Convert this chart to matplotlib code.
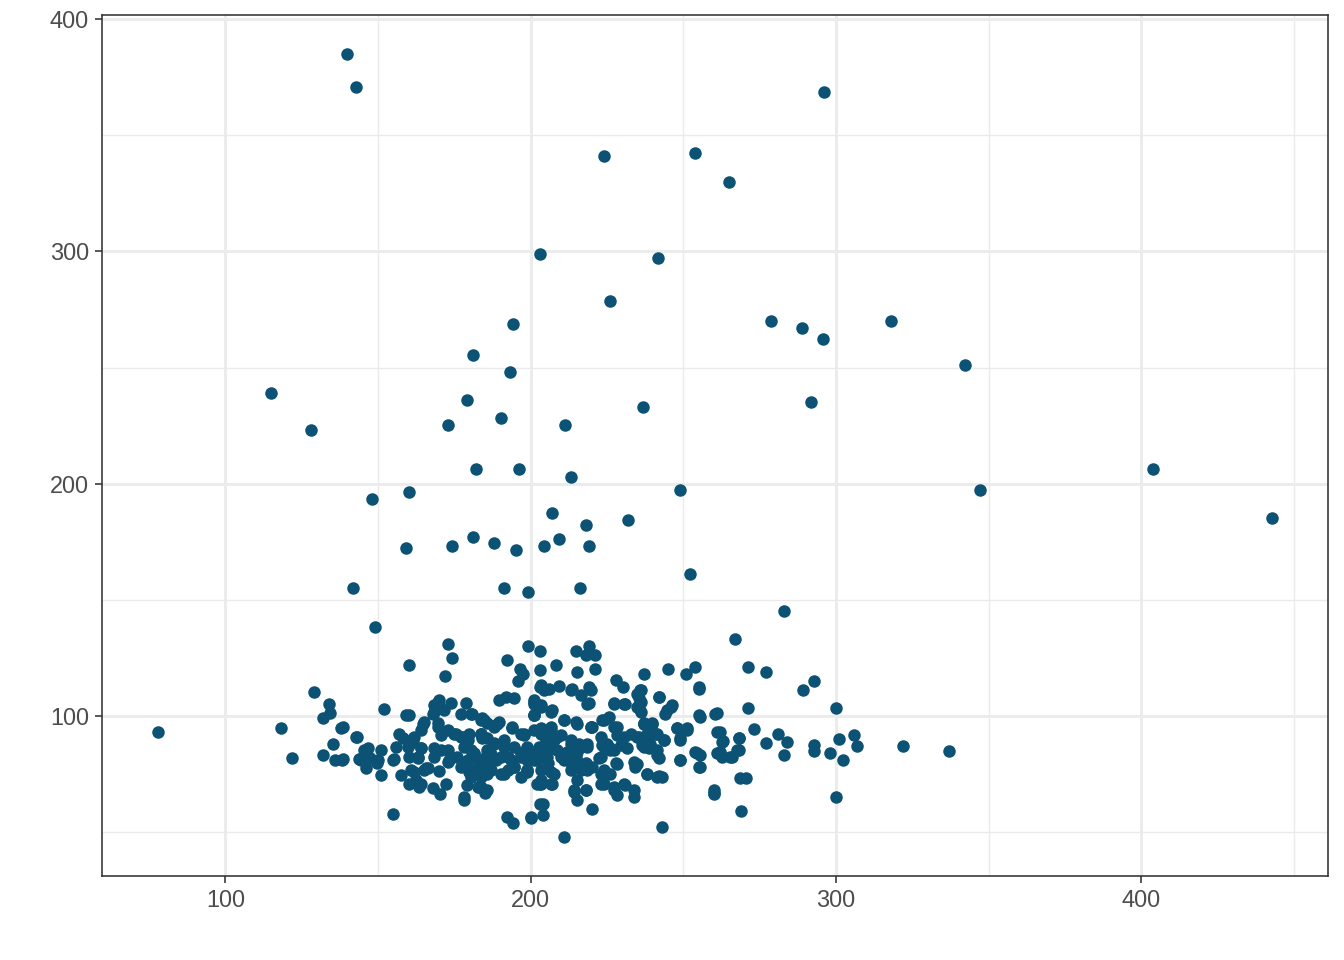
import matplotlib
matplotlib.use("Agg")
import matplotlib.pyplot as plt
import numpy as np

# points
x = [77.8, 139.9, 142.8, 296.1, 223.9, 253.9, 265.0, 202.9, 241.8, 225.8, 194.1, 278.8, 288.9, 295.8, 318.0,
     342.2, 181.0, 115.0, 193.1, 179.1, 236.9, 291.8, 128.1, 190.2, 172.9, 211.1, 182.0, 196.1, 213.1, 403.9,
     442.8, 249.0, 347.1, 148.0, 160.1, 206.9, 218.0, 232.0, 181.0, 187.9, 174.2, 159.2, 195.1, 204.2, 209.2,
     219.0, 252.0, 141.8, 191.2, 216.0, 199.0, 283.0, 149.0, 267.0,
     118.1, 121.9, 129.0, 134.0, 134.2, 131.9, 138.0, 135.1, 142.8, 131.9, 136.0, 138.1, 143.9,
     173.0, 174.1, 160.0, 172.0, 199.0, 192.1, 196.5, 197.6, 195.8, 203.0, 203.0, 203.0, 151.9, 138.6, 143.0,
     138.6, 146.6, 144.7, 146.1, 149.7, 151.0, 151.0, 155.1, 157.5, 160.2, 163.5, 161.9, 165.7, 170.0, 167.9,
     170.3, 172.2, 178.0, 179.1, 183.1, 185.1, 154.8, 192.1, 194.2, 200.0, 203.0, 203.0,
     159.2, 160.2, 170.0, 168.4, 167.9, 173.9, 171.7, 178.8, 177.1, 180.9, 165.1, 164.1, 161.9, 157.0, 158.1,
     155.9, 159.7, 164.1, 160.2, 163.0, 168.4, 170.6, 172.8, 168.4, 172.8, 169.5, 170.6, 172.8, 175.5, 177.7,
     179.8, 183.7, 183.7, 185.8, 188.0, 189.6, 194.0, 196.7, 201.1, 201.1, 189.6, 191.8, 194.5,
     178.2, 179.3, 181.5, 183.7, 185.8, 188.0, 188.6, 191.3, 192.4, 194.5, 196.7, 198.9, 198.9, 201.1, 202.7,
     179.8, 181.5, 185.8, 190.2, 192.4, 196.7, 202.2, 184.2,
     214.9, 219.1, 221.2, 218.0, 208.2, 215.0, 221.2, 203.5, 206.0, 209.2, 213.6, 216.3, 219.1, 219.1,
     201.1, 203.3, 201.1, 207.1, 228.0, 230.2, 237.0, 245.0, 253.9, 251.0, 255.0, 235.9, 235.4, 235.4, 231.0,
     227.2, 241.9, 244.7, 246.3, 255.0, 261.0, 223.4, 225.6, 228.3, 220.2, 210.9, 214.7, 237.0, 239.8, 241.4,
     243.6, 247.9, 251.2, 249.0, 232.7, 235.4, 228.3, 222.9, 223.4, 226.1, 229.4, 231.6, 236.5, 238.7, 241.4,
     254.5, 255.0, 249.0, 260.5, 261.0, 261.0, 233.8, 234.3, 238.1, 241.4, 242.9, 227.8, 226.1, 222.9, 224.0,
     227.2, 228.3, 231.0, 233.8, 259.9, 259.9, 243.0, 210.9, 200.0, 204.0, 204.0, 218.0, 214.2, 215.0, 219.9,
     203.3, 207.1, 206.5, 198.9,
     197.8, 201.1, 203.3, 206.5, 209.8, 213.1, 215.8, 218.5, 196.7, 200.0, 202.7, 205.5, 208.7, 212.0, 214.7,
     218.0, 198.9, 202.2, 205.5, 210.9, 213.6, 216.3, 220.2, 222.3, 224.0, 226.1, 219.6, 207.6, 204.9, 215.2,
     271.1, 277.0, 292.9, 289.0, 271.1, 300.0, 262.1, 263.0, 268.1, 273.0, 277.0, 280.9, 283.9, 283.0, 262.1,
     262.6, 265.9, 268.1, 268.6, 270.5, 259.9, 269.0, 292.9, 292.9, 298.0, 301.1, 302.1, 305.7, 307.0, 322.0,
     337.0, 300.0, 255.5, 255.5, 255.5,
     # dense core
     201.1, 203.3, 201.1, 206.5, 180.4, 184.7, 189.1, 194.0, 197.8, 183.7, 188.0, 191.3, 194.6, 198.9, 180.4,
     182.6, 186.9, 190.2, 193.5, 196.7, 200.0, 203.3, 206.5, 203.3, 206.5, 208.7, 210.9, 215.3, 219.6, 213.1,
     216.3, 218.5, 209.8, 213.1, 216.3, 218.5, 213.1, 215.3, 207.6, 203.3, 205.4, 198.9, 194.6, 191.3, 186.9,
     183.7, 180.4, 183.7, 203.3, 206.5, 214.2, 218.0, 222.9, 225.1, 227.2, 228.3, 224.0, 222.9, 227.2, 230.5,
     234.9, 233.8, 224.0, 227.2, 230.5, 234.9, 237.0, 227.2, 230.5, 234.9, 234.9, 218.5, 213.1, 219.6, 204.4,
     # left part of the cluster
     169.5, 170.0, 168.4, 184.2, 164.6, 169.5, 175.0, 177.1, 179.3, 183.7, 185.8, 161.3, 164.1, 163.0, 173.3,
     176.0, 177.1, 179.3, 181.5, 183.7, 185.8, 181.5, 183.7, 185.8, 145.5, 144.4, 147.2, 149.9, 154.8, 160.8,
     162.4, 165.1, 164.1, 166.2, 182.6, 185.8, 178.2,
     # right part of the cluster
     236.0, 236.0, 236.0, 241.9, 245.8, 244.1, 255.0, 237.0, 239.8, 238.1, 240.9, 243.6, 239.2, 241.4, 242.0,
     237.0, 247.9, 251.2, 249.0, 249.0, 253.9, 262.1, 262.6, 265.4, 267.5, 268.1, 238.1, 242.0]
y = [93.1, 385.2, 371.0, 368.8, 340.9, 342.2, 330.1, 299.1, 297.0, 278.9, 269.0, 269.9, 266.9, 262.2, 269.9,
     251.0, 255.3, 238.9, 248.0, 235.9, 232.9, 235.1, 223.0, 228.2, 225.2, 225.2, 206.2, 206.2, 202.8, 206.2,
     185.2, 197.2, 197.2, 193.3, 196.3, 187.3, 182.2, 184.3, 177.0, 174.4, 173.1, 172.3, 171.4, 173.1, 176.1,
     173.1, 161.1, 155.1, 155.1, 155.1, 153.4, 145.2, 138.3, 133.1,
     95.1, 82.2, 110.2, 105.2, 101.2, 99.0, 95.1, 88.1, 91.1, 83.2, 81.2, 81.2, 81.4,
     131.1, 125.2, 122.2, 117.2, 130.2, 124.1, 120.1, 118.3, 115.2, 128.1, 119.8, 112.6, 103.1, 95.4, 91.1,
     81.4, 86.1, 81.8, 77.5, 79.7, 85.4, 74.5, 81.4, 74.6, 71.0, 69.6, 76.0, 77.5, 76.3, 68.9,
     66.7, 70.6, 64.1, 70.3, 69.6, 67.1, 58.1, 56.4, 54.1, 56.0, 62.4, 71.0,
     100.4, 100.4, 106.9, 104.7, 101.1, 105.5, 102.6, 105.5, 101.1, 101.1, 97.6, 94.0, 91.1, 92.5, 90.4,
     86.8, 86.8, 86.1, 82.5, 81.8, 86.1, 85.4, 85.4, 82.5, 80.3, 96.9, 91.8, 94.0, 92.5, 91.1,
     92.5, 92.5, 98.3, 96.9, 95.4, 97.6, 95.4, 92.5, 106.2, 100.4, 106.9, 108.3, 107.6,
     86.8, 81.1, 84.0, 79.7, 85.4, 88.3, 81.1, 86.8, 82.5, 78.2, 84.0, 86.8, 76.8, 81.1, 84.0,
     76.0, 75.3, 75.3, 75.3, 76.8, 73.9, 71.0, 90.4,
     128.1, 130.1, 126.2, 126.2, 122.2, 119.0, 120.1, 113.3, 111.9, 113.0, 111.5, 109.0, 112.6, 105.7,
     106.9, 104.0, 100.4, 102.6, 115.5, 112.6, 118.3, 120.1, 121.2, 118.3, 112.6, 111.2, 107.6, 103.3, 105.2,
     105.5, 108.3, 102.6, 104.7, 100.4, 101.4, 98.3, 99.7, 95.4, 95.4, 98.3, 97.6, 96.9, 96.9, 92.5,
     89.7, 94.7, 94.7, 90.4, 92.5, 91.1, 91.8, 91.1, 87.5, 86.1, 87.5, 86.1, 87.5, 86.1, 83.2,
     84.0, 78.2, 81.1, 101.1, 93.3, 84.0, 80.3, 78.2, 75.3, 73.9, 73.9, 79.7, 75.3, 75.3, 71.0,
     68.2, 66.0, 70.3, 65.3, 68.2, 66.7, 52.4, 48.1, 56.7, 57.4, 62.4, 68.2, 67.4, 63.9, 60.2,
     71.0, 71.0, 76.0, 76.0,
     91.8, 94.0, 94.7, 95.4, 91.8, 89.7, 88.2, 86.8, 84.0, 84.6, 86.8, 85.4, 85.4, 84.6, 82.5,
     79.7, 81.1, 81.1, 79.7, 81.1, 78.2, 76.8, 78.2, 81.8, 86.8, 85.4, 95.4, 89.7, 89.7, 84.6,
     121.2, 119.0, 115.1, 111.2, 103.3, 103.3, 93.3, 89.4, 90.4, 94.3, 88.3, 92.3, 88.9, 83.2, 84.2,
     82.5, 82.5, 85.4, 73.2, 73.2, 67.0, 59.1, 87.5, 85.1, 84.2, 90.1, 81.1, 91.8, 87.1, 87.1,
     85.2, 65.3, 83.2, 78.2, 99.7,
     # dense core
     105.4, 104.7, 100.4, 101.9, 101.1, 98.3, 96.8, 94.7, 92.5, 92.5, 88.2, 89.7, 86.8, 86.1, 85.4,
     81.1, 83.9, 82.5, 81.1, 82.5, 83.9, 85.4, 86.8, 92.5, 94.0, 91.1, 98.3, 96.8, 95.4, 88.2,
     86.8, 88.2, 82.5, 81.1, 79.6, 76.8, 76.8, 72.5, 75.3, 76.8, 82.5, 76.8, 78.2, 75.3, 76.8,
     76.8, 73.9, 69.6, 72.5, 71.0, 68.2, 68.2, 82.5, 88.2, 85.4, 79.6, 76.8, 71.0, 69.6, 71.0,
     79.6, 68.2, 98.3, 95.4, 91.1, 91.1, 96.8, 105.4, 105.4, 104.0, 109.7, 105.4, 111.2, 111.2, 111.2,
     # left part of the cluster
     106.2, 104.0, 101.9, 99.0, 96.8, 95.4, 92.5, 91.1, 89.7, 92.5, 90.4, 89.0, 86.1, 82.5, 81.1,
     82.5, 78.2, 81.1, 83.9, 81.1, 83.9, 76.8, 73.9, 79.6, 85.4, 81.1, 81.8, 81.1, 81.1, 76.8,
     72.5, 76.8, 71.0, 77.5, 69.6, 68.2, 65.3,
     # right part of the cluster
     111.2, 106.2, 101.9, 108.3, 104.0, 101.1, 111.9, 96.8, 96.8, 92.5, 92.5, 89.7, 88.2, 85.4, 81.8,
     86.8, 94.7, 94.0, 89.7, 81.1, 84.7, 84.7, 89.0, 82.5, 85.4, 90.4, 75.3, 74.2]

plt.rcParams['font.family'] = ['Liberation Sans', 'DejaVu Sans']

fig = plt.figure(figsize=(7, 5), dpi=192)
ax = fig.add_axes([0.0759, 0.0875, 0.912, 0.8969])

ax.scatter(x, y, s=22, color='#0b5275', linewidths=0, zorder=3)

ax.set_xticks([100, 200, 300, 400])
ax.set_yticks([100, 200, 300, 400])
ax.set_xticks([50, 150, 250, 350, 450], minor=True)
ax.set_yticks([50, 150, 250, 350], minor=True)
# limits after the ticks, else the minor ticks widen the view
ax.set_xlim(59.6, 461.0)
ax.set_ylim(31.2, 401.8)
ax.grid(which='major', color='#ebebeb', linewidth=1.07, zorder=0)
ax.grid(which='minor', color='#ebebeb', linewidth=0.53, zorder=0)
ax.set_axisbelow(True)
ax.tick_params(which='major', length=2.75, width=0.6, color='#333333',
               labelsize=8.8, labelcolor='#4d4d4d', pad=2.2)
ax.tick_params(which='minor', length=0)
for s in ax.spines.values():
    s.set_color('#333333')
    s.set_linewidth(0.6)

fig.savefig('out.png', dpi=192)
